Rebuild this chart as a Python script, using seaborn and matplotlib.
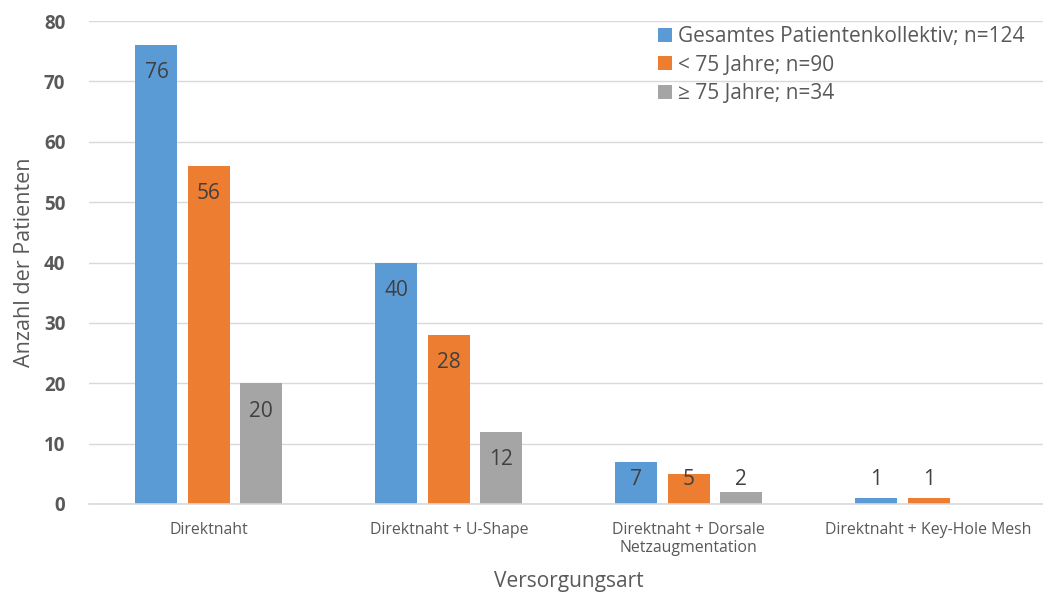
import matplotlib
matplotlib.use("Agg")
import matplotlib.pyplot as plt
import seaborn as sns
import pandas as pd

categories = ["Direktnaht", "Direktnaht + U-Shape",
              "Direktnaht + Dorsale\nNetzaugmentation", "Direktnaht + Key-Hole Mesh"]
series_names = ["Gesamtes Patientenkollektiv; n=124", "< 75 Jahre; n=90", "≥ 75 Jahre; n=34"]
total_values = [76, 40, 7, 1]
under75_values = [56, 28, 5, 1]
over75_values = [20, 12, 2, 0]
colors = ["#5B9BD5", "#ED7D31", "#A5A5A5"]
y_ticks = [0, 10, 20, 30, 40, 50, 60, 70, 80]

series_values = [total_values, under75_values, over75_values]
rows = []
for name, vals in zip(series_names, series_values):
    for cat, v in zip(categories, vals):
        rows.append({"Versorgungsart": cat, "Gruppe": name, "Anzahl": v})
df = pd.DataFrame(rows)

sns.set_theme(style="white")
plt.rcParams["font.family"] = ["Open Sans", "DejaVu Sans"]
text_color = "#595959"

fig = plt.figure(figsize=(10.43, 5.97), dpi=100)
ax = fig.add_axes([0.0853, 0.1558, 0.920, 0.809])

sns.barplot(data=df, x="Versorgungsart", y="Anzahl", hue="Gruppe",
            order=categories, hue_order=series_names, palette=colors,
            width=0.656, gap=0.2, saturation=1, ax=ax, legend=True,
            edgecolor="none")

ax.set_xlim(-0.5, 3.5)
ax.set_ylim(0, 80)
ax.set_yticks(y_ticks)
ax.yaxis.grid(True, color="#D9D9D9", linewidth=1)
ax.set_axisbelow(True)
for side in ["top", "right", "left"]:
    ax.spines[side].set_visible(False)
ax.spines["bottom"].set_color("#D9D9D9")
ax.spines["bottom"].set_linewidth(1.2)
ax.tick_params(axis="both", length=0)
ax.tick_params(axis="y", pad=17, labelsize=13.5, labelcolor=text_color)
ax.tick_params(axis="x", pad=13, labelsize=11.4, labelcolor=text_color)
for lab in ax.get_yticklabels():
    lab.set_fontweight("bold")

ax.set_ylabel("Anzahl der Patienten", fontsize=15.5, color=text_color)
ax.yaxis.set_label_coords(-0.056, 0.5)
ax.set_xlabel("Versorgungsart", fontsize=15, color=text_color)
ax.xaxis.set_label_coords(0.5, -0.139)

# value labels: inside the top of tall bars, at a fixed height for short ones
for container, vals in zip(ax.containers, series_values):
    for bar, v in zip(container, vals):
        if v <= 0:
            continue
        y = max(v - 4.6, 4.0)
        ax.text(bar.get_x() + bar.get_width() / 2, y, str(v),
                ha="center", va="center", fontsize=15, color="#404040")

leg = ax.legend(loc="upper left", bbox_to_anchor=(0.584, 1.007), frameon=False,
                fontsize=15, handlelength=0.67, handleheight=0.67,
                handletextpad=0.3, labelspacing=0.37, borderaxespad=0)
for t in leg.get_texts():
    t.set_color(text_color)

fig.savefig("out.png", dpi=100)
